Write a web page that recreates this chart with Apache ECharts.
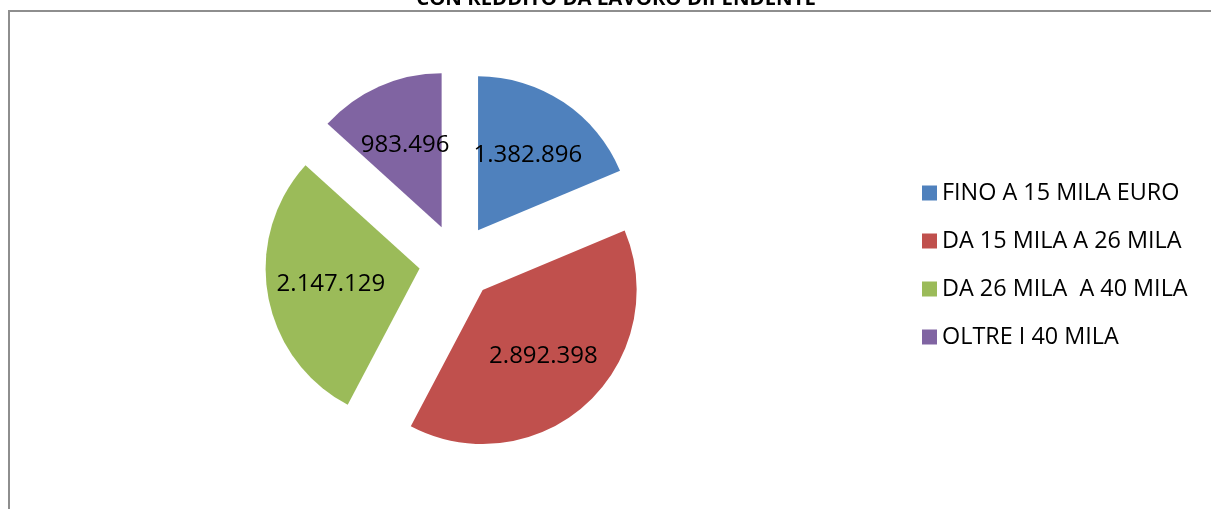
<!DOCTYPE html>
<html>
<head>
<meta charset="utf-8">
<script src="https://cdn.jsdelivr.net/npm/echarts@6/dist/echarts.min.js"></script>
<style>
  html, body { margin: 0; padding: 0; background: #fff; }
  #chart { width: 1211px; height: 509px; }
</style>
</head>
<body>
<div id="chart"></div>
<script>
// fasce di reddito
var categories = ["FINO A 15 MILA EURO", "DA 15 MILA A 26 MILA", "DA 26 MILA  A 40 MILA", "OLTRE I 40 MILA"];
var values = [1382896, 2892398, 2147129, 983496];
var colors = ["#4F81BD", "#C0504D", "#9BBB59", "#8064A2"];
var titleText = "CON REDDITO DA LAVORO DIPENDENTE";

var font = "'Open Sans', 'Liberation Sans', sans-serif";
var center = [457, 262];
var radius = 154;
var explode = 38;

function fmt(v) {
  // separatore delle migliaia con il punto
  return String(v).replace(/\B(?=(\d{3})+(?!\d))/g, ".");
}

var total = values.reduce(function (a, b) { return a + b; }, 0);

var pieData = categories.map(function (name, i) {
  return { name: name, value: values[i], selected: true, itemStyle: { color: colors[i] } };
});

// punti per le etichette: a meta' di ogni spicchio (asse angolare = valori cumulati)
var cum = 0;
var labelPoints = values.map(function (v) {
  var mid = cum + v / 2;
  cum += v;
  return [explode + 90, mid];
});

var chart = echarts.init(document.getElementById("chart"));
chart.setOption({
  animation: false,
  backgroundColor: "#fff",
  graphic: [
    {
      type: "polyline",
      shape: { points: [[9, 700], [9, 11], [1400, 11]] },
      style: { fill: null, stroke: "#8e8e8e", lineWidth: 2 },
      silent: true
    },
    {
      type: "text",
      x: 616,
      y: -1,
      style: {
        text: titleText,
        font: "bold 20.4px " + font,
        fill: "#000",
        textAlign: "center",
        textVerticalAlign: "middle"
      },
      silent: true
    }
  ],
  legend: {
    orient: "vertical",
    left: 917,
    top: 176,
    icon: "rect",
    itemWidth: 15,
    itemHeight: 15,
    itemGap: 24,
    data: categories,
    textStyle: { fontFamily: font, fontSize: 23.4, color: "#000", lineHeight: 24 }
  },
  polar: { center: center, radius: radius },
  angleAxis: { type: "value", min: 0, max: total, startAngle: 90, clockwise: true, show: false },
  radiusAxis: { type: "value", min: 0, max: radius, show: false },
  series: [
    {
      // spicchi
      type: "pie",
      center: center,
      radius: radius,
      startAngle: 90,
      clockwise: true,
      selectedMode: "multiple",
      selectedOffset: explode,
      label: { show: false },
      labelLine: { show: false },
      emphasis: { disabled: true },
      data: pieData
    },
    {
      // etichette dei valori
      type: "scatter",
      name: "etichette",
      coordinateSystem: "polar",
      symbolSize: 0,
      silent: true,
      itemStyle: { opacity: 1, color: "#000" },
      label: {
        show: true,
        position: "inside",
        color: "#000",
        opacity: 1,
        fontFamily: font,
        fontSize: 24,
        formatter: function (p) { return fmt(values[p.dataIndex]); }
      },
      data: labelPoints
    }
  ]
});
</script>
</body>
</html>
